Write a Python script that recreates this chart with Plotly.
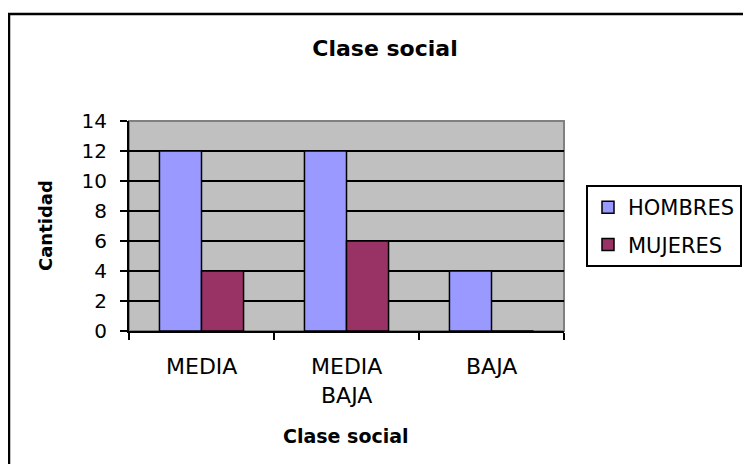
import plotly.graph_objects as go

categories = ["MEDIA", "MEDIA BAJA", "BAJA"]
tick_labels = ["MEDIA", "MEDIA<br>BAJA", "BAJA"]
hombres = [12, 12, 4]
mujeres = [4, 6, 0]
series_names = ["HOMBRES", "MUJERES"]
series_colors = ["#9999FF", "#993366"]

OFF = 8  # default page body margin
W, H = 751, 464
L, R, T, B = 129, 564, 121, 331  # plot area in page pixels
pw, ph = R - L, B - T

def px_x(px):
    return (px - L) / pw

def px_y(py):
    return (B - py) / ph

FONT = "DejaVu Sans, Liberation Sans, Arial, sans-serif"

fig = go.Figure()
for i, (name, vals) in enumerate(zip(series_names, [hombres, mujeres])):
    fig.add_trace(go.Bar(
        x=categories, y=vals, name=name,
        marker=dict(color=series_colors[i], line=dict(color="black", width=1.5)),
        legendgroup=name,
    ))

annotations = []
for cat, lab in zip(categories, tick_labels):
    for j, line in enumerate(lab.split("<br>")):
        annotations.append(dict(
            x=cat, xref="x", y=px_y(366 + 29 * j), yref="paper",
            text=line, showarrow=False, xanchor="center", yanchor="middle",
            font=dict(family=FONT, size=22, color="black"),
        ))
annotations.append(dict(
    x=px_x(346), xref="paper", y=px_y(436), yref="paper",
    text="<b>Clase social</b>", showarrow=False,
    xanchor="center", yanchor="middle",
    font=dict(family=FONT, size=19, color="black"),
))
annotations.append(dict(
    x=px_x(45), xref="paper", y=px_y(226), yref="paper",
    text="<b>Cantidad</b>", showarrow=False, textangle=-90,
    xanchor="center", yanchor="middle",
    font=dict(family=FONT, size=18, color="black"),
))

shapes = [
    dict(type="rect", xref="paper", yref="paper", x0=0, x1=1, y0=0, y1=1,
         line=dict(color="#808080", width=2), layer="below"),
    dict(type="rect", xref="paper", yref="paper",
         x0=px_x(9), x1=px_x(770), y0=px_y(480), y1=px_y(14),
         line=dict(color="black", width=2.5)),
]

fig.update_layout(
    width=W - OFF, height=H - OFF,
    margin=dict(l=L - OFF, r=W - R, t=T - OFF, b=H - B, pad=0, autoexpand=False),
    paper_bgcolor="white",
    plot_bgcolor="#C0C0C0",
    barmode="group", bargap=0.42, bargroupgap=0,
    title=dict(text="<b>Clase social</b>", x=px_x(385), xref="paper",
               y=1 - (48 - OFF) / (H - OFF), yref="container",
               xanchor="center", yanchor="middle",
               font=dict(family=FONT, size=22, color="black")),
    font=dict(family=FONT, size=20, color="black"),
    xaxis=dict(showticklabels=False, tickson="boundaries", ticks="outside",
               ticklen=7, tickwidth=1.5, tickcolor="black",
               showline=True, linecolor="black", linewidth=2,
               showgrid=False, zeroline=False, fixedrange=True),
    yaxis=dict(range=[0, 14], dtick=2, ticks="outside", ticklen=7, tickwidth=1.5,
               tickcolor="black", showline=True, linecolor="black", linewidth=2,
               showgrid=True, gridcolor="black", gridwidth=1.5, zeroline=False,
               ticklabelstandoff=9,
               tickfont=dict(family=FONT, size=20, color="black")),
    legend=dict(x=px_x(586), y=px_y(185), xanchor="left", yanchor="top",
                bordercolor="black", borderwidth=2, bgcolor="white",
                font=dict(family=FONT, size=21, color="black"),
                tracegroupgap=7, traceorder="grouped"),
    annotations=annotations,
    shapes=shapes,
    showlegend=True,
)

fig.write_html("out.html")
